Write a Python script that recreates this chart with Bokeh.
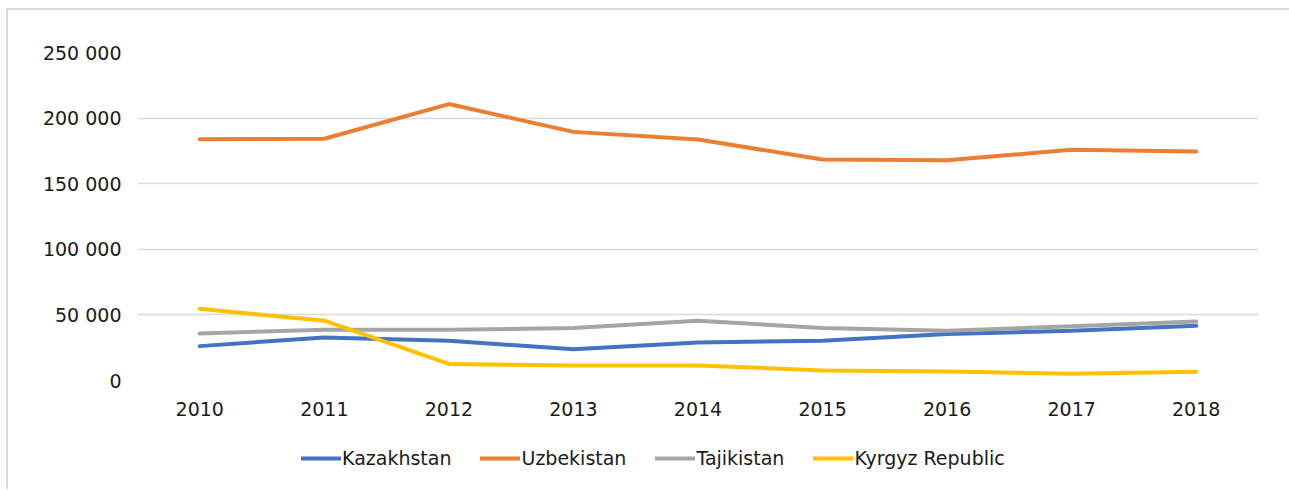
from bokeh.plotting import figure
from bokeh.layouts import column
from bokeh.models import FactorRange, Range1d, FixedTicker, Legend, LegendItem
from bokeh.embed import file_html
from bokeh.resources import INLINE

years = ["2010", "2011", "2012", "2013", "2014", "2015", "2016", "2017", "2018"]
kazakhstan = [26200, 32800, 30300, 23800, 29000, 30300, 35400, 37900, 41800]
uzbekistan = [183800, 184300, 210700, 189500, 183700, 168400, 167900, 175900, 174600]
tajikistan = [35900, 38700, 38700, 40000, 45600, 40000, 37900, 41300, 44900]
kyrgyz = [54600, 45600, 12600, 11500, 11500, 7700, 6900, 5100, 6700]

y_ticks = [0, 50000, 100000, 150000, 200000, 250000]
y_tick_labels = ["0", "50 000", "100 000", "150 000", "200 000", "250 000"]

series = [
    ("Kazakhstan", kazakhstan, "#4472C4"),
    ("Uzbekistan", uzbekistan, "#ED7D31"),
    ("Tajikistan", tajikistan, "#A5A5A5"),
    ("Kyrgyz Republic", kyrgyz, "#FFC000"),
]

FONT = "DejaVu Sans"
W = 1281
H_CHART = 415
H_LEG = 64

p = figure(
    x_range=FactorRange(*years, range_padding=0),
    y_range=Range1d(0, 250000),
    width=W, height=H_CHART,
    output_backend="svg", toolbar_location=None,
    min_border_left=129, min_border_right=31,
    min_border_top=42, min_border_bottom=45,
)
p.outline_line_color = None
p.background_fill_color = "white"
p.border_fill_color = "white"

for name, vals, color in series:
    p.line(years, vals, line_color=color, line_width=4, line_cap="round", line_join="round")

p.xgrid.grid_line_color = None
p.ygrid.grid_line_color = "#d9d9d9"
p.ygrid.grid_line_width = 1.3
p.ygrid.ticker = FixedTicker(ticks=y_ticks)

p.yaxis.ticker = FixedTicker(ticks=y_ticks)
p.yaxis.major_label_overrides = {t: l for t, l in zip(y_ticks, y_tick_labels)}
for ax in (p.xaxis, p.yaxis):
    ax.axis_line_color = None
    ax.major_tick_line_color = None
    ax.minor_tick_line_color = None
    ax.major_label_text_font = FONT
    ax.major_label_text_font_size = "19px"
    ax.major_label_text_color = "#1a1a1a"
p.yaxis.major_label_standoff = 10
p.xaxis.major_label_standoff = 15

# legend strip
p2 = figure(
    x_range=Range1d(0, 1), y_range=Range1d(0, 1),
    width=W, height=H_LEG,
    output_backend="svg", toolbar_location=None,
    x_axis_type=None, y_axis_type=None,
    min_border=0,
)
p2.outline_line_color = None
p2.grid.grid_line_color = None
p2.background_fill_color = "white"
p2.border_fill_color = "white"

nan = float("nan")
items = []
for name, vals, color in series:
    r = p2.line(x=[nan], y=[nan], line_color=color, line_width=4, line_cap="round")
    items.append(LegendItem(label=name, renderers=[r]))

legend = Legend(
    items=items,
    orientation="horizontal",
    location=(164, 20),
    label_text_font=FONT,
    label_text_font_size="19px",
    label_text_color="#1a1a1a",
    glyph_width=40,
    label_standoff=1,
    spacing=29,
    padding=0,
    margin=0,
    border_line_color=None,
    background_fill_alpha=0,
)
p2.add_layout(legend, "center")

layout = column(p, p2, spacing=0)
layout.styles = {
    "border-left": "2px solid #d9d9d9",
    "border-top": "2px solid #d9d9d9",
    "margin-left": "6px",
    "margin-top": "8px",
}

open("out.html", "w").write(file_html(layout, INLINE))
